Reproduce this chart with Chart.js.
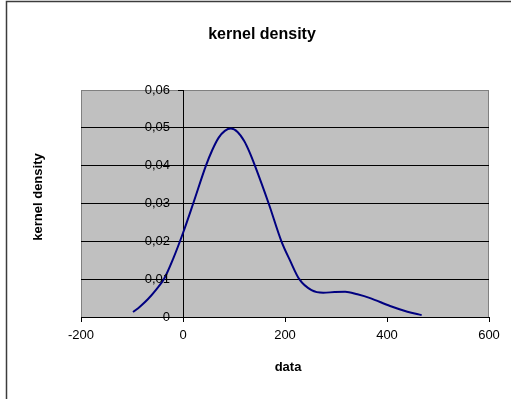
<!DOCTYPE html>
<html>
<head>
<meta charset="utf-8">
<script src="https://cdn.jsdelivr.net/npm/chart.js@4/dist/chart.umd.min.js"></script>
<style>
  html, body { margin: 0; padding: 0; background: #fff; }
  #wrap { width: 511px; height: 399px; position: relative; }
</style>
</head>
<body>
<div id="wrap"><canvas id="kd" width="511" height="399"></canvas></div>
<script>
// density estimate, sampled along the data range
const dataX = [-98, -84, -69, -53, -37, -19, 0, 20, 45, 57, 70, 82, 94, 107, 120, 130, 141, 168, 193, 210, 228, 252, 275, 297, 318, 342, 367, 406, 440, 468];
const densY = [0.0013, 0.0028, 0.0047, 0.0072, 0.0101, 0.0155, 0.0222, 0.030, 0.040, 0.0440, 0.0474, 0.0492, 0.0498, 0.0489, 0.0465, 0.0437, 0.040, 0.030, 0.020, 0.0149, 0.0100, 0.0071, 0.0064, 0.0066, 0.0067, 0.0060, 0.0050, 0.0029, 0.0014, 0.0005];
const xTicks = [-200, 0, 200, 400, 600];
const yTicks = [0, 0.01, 0.02, 0.03, 0.04, 0.05, 0.06];

const chartTitle = 'kernel density';
const yTitle = 'kernel density';
const xTitle = 'data';

const FONT = '"Liberation Sans", Arial, sans-serif';

const fmt = v => v === 0 ? '0' : v.toFixed(2).replace('.', ',');

const frame = {
  id: 'frame',
  beforeDraw(chart) {
    const {ctx, chartArea: a} = chart;
    ctx.save();
    // outer chart border (left and top only visible)
    ctx.strokeStyle = '#3c3c3c';
    ctx.lineWidth = 1.5;
    ctx.beginPath();
    ctx.moveTo(6.5, 399);
    ctx.lineTo(6.5, 1.5);
    ctx.lineTo(511, 1.5);
    ctx.stroke();
    // plot area
    ctx.fillStyle = '#c0c0c0';
    ctx.fillRect(a.left, a.top, a.right - a.left, a.bottom - a.top);
    ctx.strokeStyle = '#808080';
    ctx.lineWidth = 1;
    ctx.strokeRect(a.left + 0.5, a.top + 0.5, a.right - a.left - 1, a.bottom - a.top);
    ctx.restore();
  },
  afterDraw(chart) {
    const {ctx} = chart;
    const xs = chart.scales.x, ys = chart.scales.y;
    ctx.save();
    ctx.fillStyle = '#000';
    // y tick labels sit left of the axis crossing at x = 0
    ctx.font = '13px ' + FONT;
    ctx.textAlign = 'right';
    ctx.textBaseline = 'middle';
    const axisX = xs.getPixelForValue(0);
    ys.ticks.forEach(t => {
      ctx.fillText(fmt(t.value), axisX - 13, ys.getPixelForValue(t.value));
    });
    ctx.textAlign = 'center';
    ctx.font = 'bold 16px ' + FONT;
    ctx.fillText(chartTitle, 262, 35);
    ctx.font = 'bold 13px ' + FONT;
    ctx.fillText(xTitle, 288, 367);
    ctx.translate(38, 197);
    ctx.rotate(-Math.PI / 2);
    ctx.fillText(yTitle, 0, 0);
    ctx.restore();
  }
};

new Chart(document.getElementById('kd'), {
  type: 'line',
  data: {
    datasets: [{
      data: dataX.map((x, i) => ({x: x, y: densY[i]})),
      borderColor: '#000080',
      borderWidth: 2,
      pointRadius: 0,
      cubicInterpolationMode: 'monotone',
      fill: false
    }]
  },
  options: {
    responsive: false,
    animation: false,
    layout: { padding: { left: 81, right: 22, top: 90, bottom: 49.4 } },
    plugins: { legend: { display: false }, tooltip: { enabled: false } },
    scales: {
      x: {
        type: 'linear',
        min: -200, max: 600,
        afterBuildTicks: s => { s.ticks = xTicks.map(v => ({value: v})); },
        grid: { drawOnChartArea: false, drawTicks: true, tickLength: 5, color: '#000' },
        border: { color: '#000', width: 1 },
        ticks: { color: '#000', padding: 6, maxRotation: 0, font: { family: FONT, size: 13 } }
      },
      y: {
        type: 'linear',
        position: { x: 0 },
        min: 0, max: 0.06,
        afterBuildTicks: s => { s.ticks = yTicks.map(v => ({value: v})); },
        grid: {
          color: c => (c.tick && c.tick.value === 0.06) ? '#808080' : '#000',
          tickColor: '#000',
          tickLength: 5
        },
        border: { color: '#000', width: 1 },
        ticks: { display: false }
      }
    }
  },
  plugins: [frame]
});
</script>
</body>
</html>
